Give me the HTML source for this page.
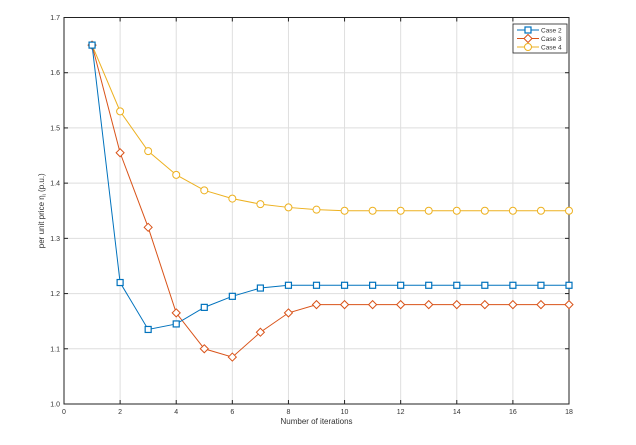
<!DOCTYPE html>
<html><head><meta charset="utf-8"><style>
body{margin:0;background:#fff;width:636px;height:440px;overflow:hidden;font-family:"Liberation Sans",sans-serif}
text{font-family:"Liberation Sans",sans-serif;fill:#333}
</style></head><body>
<svg id="chart" width="636" height="440"></svg>
<script>
const iterations=[1,2,3,4,5,6,7,8,9,10,11,12,13,14,15,16,17,18];
const case2=[1.65,1.22,1.135,1.145,1.175,1.195,1.21,1.215,1.215,1.215,1.215,1.215,1.215,1.215,1.215,1.215,1.215,1.215];
const case3=[1.65,1.455,1.32,1.165,1.10,1.085,1.13,1.165,1.18,1.18,1.18,1.18,1.18,1.18,1.18,1.18,1.18,1.18];
const case4=[1.65,1.53,1.458,1.415,1.387,1.372,1.362,1.356,1.352,1.35,1.35,1.35,1.35,1.35,1.35,1.35,1.35,1.35];
const xTicks=[0,2,4,6,8,10,12,14,16,18];
const yTicks=[1.0,1.1,1.2,1.3,1.4,1.5,1.6,1.7];
const L=64,R=569,T=17.5,B=404;
const sx=v=>L+(v-0)/18*(R-L);
const sy=v=>B-(v-1.0)/0.7*(B-T);
const svg=document.getElementById('chart');
const NS='http://www.w3.org/2000/svg';
function mk(tag,attrs,parent){const e=document.createElementNS(NS,tag);for(const k in attrs)e.setAttribute(k,attrs[k]);(parent||svg).appendChild(e);return e;}
const grid=mk('g',{});


xTicks.forEach(t=>{mk('line',{x1:sx(t),x2:sx(t),y1:T,y2:B,stroke:'#dedede','stroke-width':1},grid);});
yTicks.forEach(t=>{mk('line',{x1:L,x2:R,y1:sy(t),y2:sy(t),stroke:'#dedede','stroke-width':1},grid);});
const axes=mk('g',{});


mk('rect',{x:L,y:T,width:R-L,height:B-T,fill:'none',stroke:'#222','stroke-width':1},axes);
xTicks.forEach(t=>{
 mk('line',{x1:sx(t),x2:sx(t),y1:B,y2:B-4,stroke:'#222'},axes);
 mk('line',{x1:sx(t),x2:sx(t),y1:T,y2:T+4,stroke:'#222'},axes);
 const tx=mk('text',{x:sx(t),y:B+10,'font-size':7,'text-anchor':'middle'},axes);tx.textContent=t;
 
 
});
yTicks.forEach(t=>{
 mk('line',{x1:L,x2:L+4,y1:sy(t),y2:sy(t),stroke:'#222'},axes);
 mk('line',{x1:R,x2:R-4,y1:sy(t),y2:sy(t),stroke:'#222'},axes);
 const tx=mk('text',{x:L-4,y:sy(t)+2.5,'font-size':7,'text-anchor':'end'},axes);tx.textContent=t.toFixed(1);
 
 
});
const xl=mk('text',{x:(L+R)/2,y:424,'font-size':8,'text-anchor':'middle'});xl.textContent='Number of iterations';


const yl=mk('text',{x:0,y:0,'font-size':8,'text-anchor':'middle',transform:`translate(44,${(T+B)/2}) rotate(-90)`});
yl.innerHTML='per unit price η<tspan font-size="5" dy="2">i</tspan><tspan dy="-2"> (p.u.)</tspan>';


function marker(g,type,x,y,c){
 if(type==='sq')mk('rect',{x:x-3,y:y-3,width:6,height:6,fill:'#fff',stroke:c,'stroke-width':1.2},g);
 else if(type==='di')mk('polygon',{points:`${x},${y-4} ${x+4},${y} ${x},${y+4} ${x-4},${y}`,fill:'#fff',stroke:c,'stroke-width':1},g);
 else mk('circle',{cx:x,cy:y,r:3.5,fill:'#fff',stroke:c,'stroke-width':1},g);
}
const series=[[case4,'#EDB120','ci','series-case-4'],[case3,'#D95319','di','series-case-3'],[case2,'#0072BD','sq','series-case-2']];
series.forEach(([d,c,m,n])=>{
 const g=mk('g',{});
 
 
 mk('polyline',{points:d.map((v,i)=>sx(iterations[i])+','+sy(v)).join(' '),fill:'none',stroke:c,'stroke-width':1},g);
 d.forEach((v,i)=>marker(g,m,sx(iterations[i]),sy(v),c));
});
const lg=mk('g',{});


mk('rect',{x:513,y:24,width:54,height:29,fill:'#fff',stroke:'#222','stroke-width':0.8},lg);
[['Case 2','#0072BD','sq'],['Case 3','#D95319','di'],['Case 4','#EDB120','ci']].forEach(([t,c,m],i)=>{
 const y=30+i*8.5;
 mk('line',{x1:517,x2:539,y1:y,y2:y,stroke:c},lg);
 marker(lg,m,528,y,c);
 const tx=mk('text',{x:541,y:y+2.5,'font-size':6.5},lg);tx.textContent=t;
 
 
});
</script>
</body></html>
